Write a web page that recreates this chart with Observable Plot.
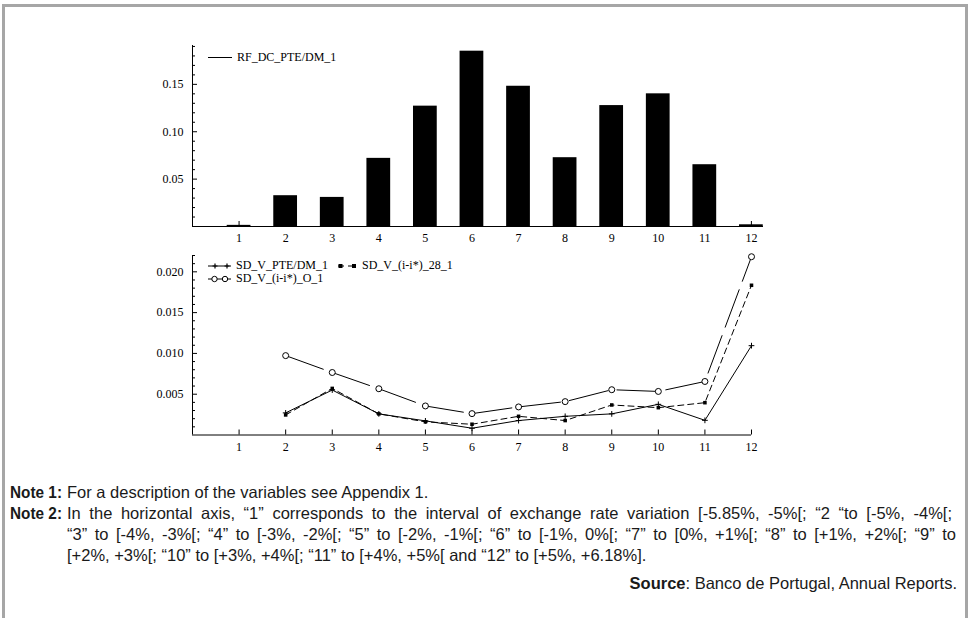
<!DOCTYPE html>
<html><head><meta charset="utf-8">
<script src="https://cdn.jsdelivr.net/npm/d3@7"></script>
<script src="https://cdn.jsdelivr.net/npm/@observablehq/plot@0.6"></script>
<style>
body{margin:0;background:#fff;}
#page{position:relative;width:968px;height:618px;overflow:hidden;background:#fff;}
.bl{position:absolute;background:#a6a6a6;}
.note{position:absolute;font-family:"Liberation Sans Narrow","Arial Narrow","Liberation Sans",sans-serif;font-size:16.5px;line-height:21px;white-space:nowrap;color:#1a1a1a;}
.note b{font-weight:bold;}
.lab{transform:scaleX(0.93);transform-origin:left center;}
.just{white-space:normal;text-align:justify;text-align-last:justify;}
#legend{position:absolute;left:0;top:0;pointer-events:none;}
</style></head><body>
<div id="page">
 <div class="bl" style="left:2px;top:4px;width:3px;height:614px"></div>
 <div class="bl" style="left:2px;top:4px;width:966px;height:3px"></div>
 <div class="bl" style="left:965px;top:4px;width:3px;height:614px"></div>
 <div id="top" style="position:absolute;left:0;top:0"></div>
 <div id="bot" style="position:absolute;left:0;top:250px"></div>
 <svg id="legend" width="968" height="618"></svg>
 <div class="note lab" style="left:10px;top:482px"><b>Note 1:</b></div>
 <div class="note" style="left:67px;top:482px">For a description of the variables see Appendix 1.</div>
 <div class="note lab" style="left:10px;top:503px"><b>Note 2:</b></div>
 <div class="note just" style="left:67px;top:503px;width:885px">In the horizontal axis, “1” corresponds to the interval of exchange rate variation [-5.85%, -5%[; “2 “to [-5%, -4%[;</div>
 <div class="note just" style="left:67px;top:524px;width:889px">“3” to [-4%, -3%[; “4” to [-3%, -2%[; “5” to [-2%, -1%[; “6” to [-1%, 0%[; “7” to [0%, +1%[; “8” to [+1%, +2%[; “9” to</div>
 <div class="note" style="left:67px;top:545px">[+2%, +3%[; “10” to [+3%, +4%[; “11” to [+4%, +5%[ and “12” to [+5%, +6.18%].</div>
 <div class="note" style="right:11px;top:573px"><b>Source</b>: Banco de Portugal, Annual Reports.</div>
</div>
<script>
// ---- data ----
const categories = [1,2,3,4,5,6,7,8,9,10,11,12];
const rfName = "RF_DC_PTE/DM_1";
const rfValues = [0.0012,0.0325,0.0307,0.0719,0.127,0.185,0.148,0.0726,0.1276,0.140,0.0652,0.0018];
const topYTicks = [0.05,0.10,0.15];

const sdCategories = [2,3,4,5,6,7,8,9,10,11,12];
const seriesNames = ["SD_V_PTE/DM_1","SD_V_(i-i*)_28_1","SD_V_(i-i*)_O_1"];
const sdPte = [0.00271,0.00551,0.00259,0.00173,0.00083,0.00177,0.00229,0.00259,0.00376,0.00180,0.01095];
const sd28  = [0.00246,0.00571,0.00259,0.00161,0.00132,0.00229,0.00177,0.00368,0.00335,0.00396,0.01835];
const sdO   = [0.00973,0.00766,0.00567,0.00356,0.00262,0.00344,0.00409,0.00555,0.00534,0.00656,0.02185];
const botYTicks = [0.005,0.010,0.015,0.020];

// ---- tables ----
const rf = categories.map((c,i)=>({cat:c, v:rfValues[i]}));
const sd = [];
[sdPte, sd28, sdO].forEach((arr,k)=>arr.forEach((v,i)=>sd.push({cat:sdCategories[i], v, s:seriesNames[k]})));
const half = 0.255;
const serif = "'Liberation Serif','Times New Roman',serif";
const topMinor = d3.range(1,20).map(i=>i/100).filter(t=>!topYTicks.some(m=>Math.abs(m-t)<1e-9));
const botMinor = d3.range(1,23).map(i=>i/1000).filter(t=>!botYTicks.some(m=>Math.abs(m-t)<1e-9));

const topPlot = Plot.plot({
  width:968, height:250,
  marginLeft:192, marginRight:205, marginTop:45, marginBottom:24,
  x:{domain:[0,12.26], axis:null},
  y:{domain:[0,0.191], axis:null},
  style:{fontFamily:serif, fontSize:"12px", color:"#000", background:"transparent", overflow:"visible"},
  marks:[
    Plot.axisX({ticks:categories, tickSize:-5, tickPadding:12, tickFormat:d=>String(d), label:null}),
    Plot.axisY({ticks:topYTicks, tickSize:-5, tickPadding:14, tickFormat:d3.format(".2f"), label:null}),
    Plot.axisY({ticks:topMinor, tickSize:-3, tickFormat:()=>"", label:null}),
    Plot.rectY(rf, {x1:d=>d.cat-half, x2:d=>d.cat+half, y:"v", fill:"#000"}),
    Plot.ruleY([0], {stroke:"#000"}),
    Plot.ruleX([0], {stroke:"#000"})
  ]
});
document.getElementById("top").appendChild(topPlot);

const dash = {"SD_V_PTE/DM_1":null, "SD_V_(i-i*)_28_1":"6,4", "SD_V_(i-i*)_O_1":"40,9"};
const botPlot = Plot.plot({
  width:968, height:210,
  marginLeft:192, marginRight:217, marginTop:5, marginBottom:25.5,
  x:{domain:[0,12], axis:null},
  y:{domain:[0,0.022], axis:null},
  style:{fontFamily:serif, fontSize:"12px", color:"#000", background:"transparent", overflow:"visible"},
  marks:[
    Plot.axisX({ticks:categories, tickSize:-5, tickPadding:12, tickFormat:d=>String(d), label:null}),
    Plot.axisY({ticks:botYTicks, tickSize:-5, tickPadding:14, tickFormat:d3.format(".3f"), label:null}),
    Plot.axisY({ticks:botMinor, tickSize:-3, tickFormat:()=>"", label:null}),
    ...seriesNames.map(n=>Plot.line(sd.filter(d=>d.s===n), {x:"cat", y:"v", stroke:"#000", strokeWidth:1, strokeDasharray:dash[n]})),
    Plot.dot(sd.filter(d=>d.s===seriesNames[0]), {x:"cat", y:"v", symbol:"plus", r:2, stroke:"#000", strokeWidth:1}),
    Plot.dot(sd.filter(d=>d.s===seriesNames[1]), {x:"cat", y:"v", symbol:"square", r:2, fill:"#000"}),
    Plot.dot(sd.filter(d=>d.s===seriesNames[2]), {x:"cat", y:"v", symbol:"circle", r:3, fill:"#fff", stroke:"#000", strokeWidth:1}),
    Plot.ruleY([0], {stroke:"#000"}),
    Plot.ruleX([0], {stroke:"#000"})
  ]
});
document.getElementById("bot").appendChild(botPlot);

// ---- legends ----
const lg = d3.select("#legend");
function txt(x,y,s){ lg.append("text").attr("x",x).attr("y",y).attr("dominant-baseline","middle")
  .attr("font-family",serif).attr("font-size",12).attr("fill","#000").text(s); }
function plus(x,y){ lg.append("path").attr("d",`M${x-2.5},${y}H${x+2.5}M${x},${y-2.5}V${y+2.5}`).attr("stroke","#000").attr("stroke-width",1.2); }
lg.append("line").attr("x1",208).attr("x2",232).attr("y1",57.5).attr("y2",57.5).attr("stroke","#000");
txt(237,58,rfName);
// PTE
lg.append("line").attr("x1",208).attr("x2",231).attr("y1",266).attr("y2",266).attr("stroke","#000");
plus(215,266); plus(227,266);
txt(236,266.5,seriesNames[0]);
// 28
lg.append("line").attr("x1",338).attr("x2",356).attr("y1",266).attr("y2",266).attr("stroke","#000").attr("stroke-dasharray","6,4");
lg.append("rect").attr("x",338.5).attr("y",264).attr("width",4).attr("height",4).attr("fill","#000");
lg.append("rect").attr("x",352).attr("y",264).attr("width",4).attr("height",4).attr("fill","#000");
txt(362,266.5,seriesNames[1]);
// O
lg.append("line").attr("x1",208).attr("x2",231).attr("y1",279).attr("y2",279).attr("stroke","#000");
lg.append("circle").attr("cx",214.5).attr("cy",279).attr("r",2.7).attr("fill","#fff").attr("stroke","#000");
lg.append("circle").attr("cx",225).attr("cy",279).attr("r",2.7).attr("fill","#fff").attr("stroke","#000");
txt(236,279.5,seriesNames[2]);
</script>
</body></html>
